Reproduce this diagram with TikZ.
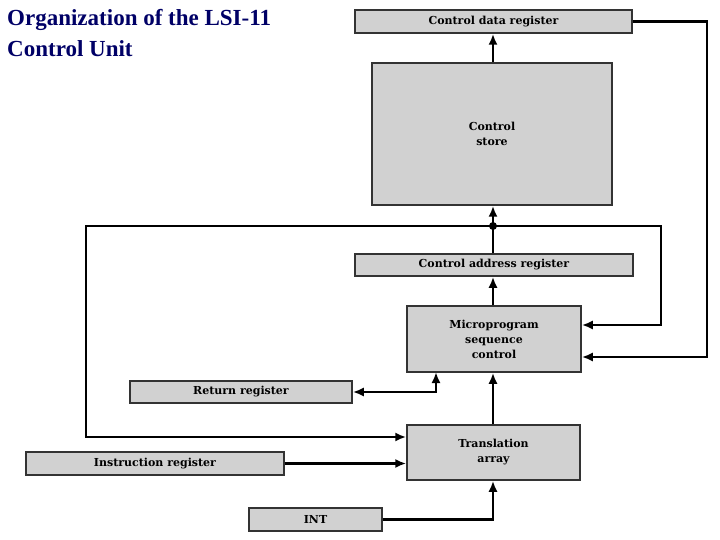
\documentclass[tikz,border=0pt]{standalone}
\usepackage{fontspec}
\setmainfont{Liberation Serif}
\newfontfamily\boxfont{DejaVu Serif}
\usetikzlibrary{arrows.meta}
\begin{document}
\begin{tikzpicture}[x=1pt,y=-1pt,
 box/.style={draw=black!80,line width=1.5pt,fill=black!18,font=\boxfont\bfseries\fontsize{11}{15}\selectfont,align=center,inner sep=0pt},
 con/.style={line width=2.6pt,-{Latex[length=11pt,width=9pt]}}]
\useasboundingbox (0,0) rectangle (720,540);
\node[anchor=north west,align=left,text=blue!40!black,font=\bfseries\fontsize{23}{31}\selectfont,inner sep=0pt] (title) at (7,9) {Organization of the LSI-11\\Control Unit};
\node[box,minimum width=277pt,minimum height=23pt] (cdr) at (493.5,21.5) {Control data register};
\node[box,minimum width=240pt,minimum height=142pt] (cs) at (492,134) {Control\\store};
\node[box,minimum width=278pt,minimum height=22pt] (car) at (494,265) {Control address register};
\node[box,minimum width=174pt,minimum height=66pt] (msc) at (494,339) {Microprogram\\sequence\\control};
\node[box,minimum width=222pt,minimum height=22pt] (rr) at (241,392) {Return register};
\node[box,minimum width=173pt,minimum height=55pt] (ta) at (493.5,452.5) {Translation\\array};
\node[box,minimum width=258pt,minimum height=23pt] (ir) at (155,463.5) {Instruction register};
\node[box,minimum width=133pt,minimum height=23pt] (int) at (315.5,519.5) {INT};
\coordinate (dot) at (493,226);
\draw[con] (cs.north -| dot) -- (cdr.south -| dot);
\draw[con] (cdr.east) -- (707,21.5) -- (707,357) -- (msc.east |- 0,357);
\draw[con] (car.north -| dot) -- (cs.south -| dot);
\fill (dot) circle (4pt);
\draw[con] (dot) -- (86,226) -- (86,437) -- (ta.west |- 0,437);
\draw[con] (dot) -- (661,226) -- (661,325) -- (msc.east |- 0,325);
\draw[con] (msc.north -| dot) -- (car.south -| dot);
\draw[line width=2.6pt,{Latex[length=11pt,width=9pt]}-{Latex[length=11pt,width=9pt]}] (rr.east) -- (436,392) -- (436,372);
\draw[con] (ta.north -| dot) -- (msc.south -| dot);
\draw[con] (ir.east) -- (ta.west |- ir.east);
\draw[con] (int.east) -- (493,519.5) -- (ta.south -| dot);
\end{tikzpicture}
\end{document}
